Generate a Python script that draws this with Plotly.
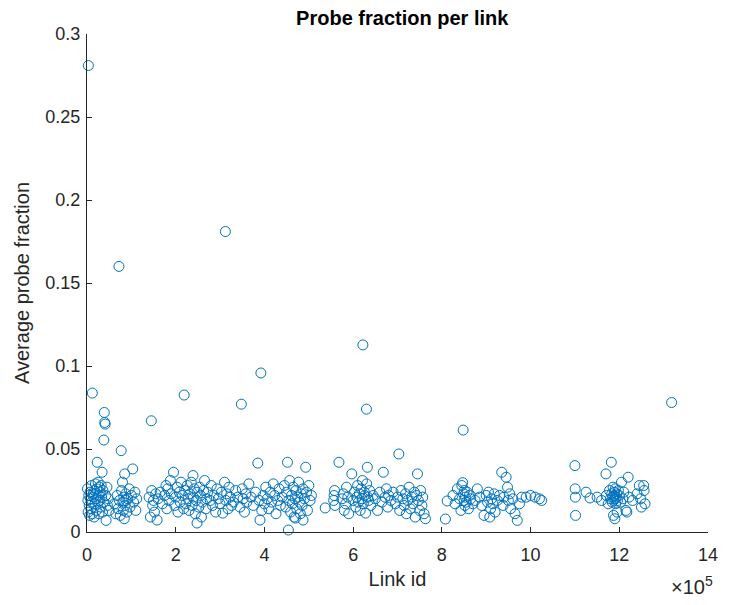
import plotly.graph_objects as go

# Average probe fraction observed for each link id
link_id = [
    3000, 12000, 39000, 40000, 41000, 38000, 77000, 72000, 23000, 34000,
    1000, 2000, 2500, 4000, 5000, 6000, 7000, 8000, 9000, 10000,
    11000, 12500, 14000, 15000, 16000, 17000, 18000, 19000, 20000, 21000,
    22000, 24000, 25000, 26000, 27000, 28000, 29000, 30000, 31000, 32000,
    33000, 35000, 36000, 37000, 42000, 43000, 45000, 46000, 48000, 50000,
    62000, 65000, 68000, 70000, 73000, 75000, 78000, 80000, 81000, 82000,
    83000, 84000, 85000, 86000, 87000, 88000, 90000, 92000, 95000, 97000,
    100000, 103000, 105000, 108000, 110000, 112000,
    145000, 140000, 143000, 146000, 148000, 150000, 152000, 155000, 158000, 160000,
    165000, 170000, 175000, 178000, 180000, 182000, 185000, 188000, 190000, 195000,
    198000, 200000, 203000, 205000, 208000, 210000, 212000, 215000, 218000, 219000,
    220000, 223000, 226000, 228000, 230000, 232000, 235000, 237000, 239000, 240000,
    242000, 244000, 246000, 248000, 312000, 252000, 254000, 256000, 258000, 260000,
    263000, 265000, 268000, 270000, 272000, 248000, 278000, 280000, 283000, 286000,
    290000, 293000, 296000, 300000, 303000, 306000, 310000, 313000, 315000, 318000,
    320000, 323000, 326000, 330000, 335000, 340000, 345000, 348000, 350000, 352000,
    355000, 358000, 360000, 365000, 370000, 375000, 380000, 385000, 388000, 390000,
    392000, 394000, 397000, 400000, 403000, 406000, 410000, 413000, 416000, 420000,
    423000, 426000, 430000, 433000, 436000, 440000,
    445000, 448000, 450000, 452000, 454000, 455000, 457000, 459000, 461000, 463000,
    465000, 467000, 469000, 471000, 473000, 475000, 477000, 479000, 481000, 483000,
    485000, 487000, 490000, 493000, 495000, 497000, 500000, 503000, 506000, 470000,
    487000,
    537000, 556000, 557000, 558000, 559000, 568000, 575000, 578000, 580000, 583000,
    585000, 588000, 590000, 597000, 600000, 603000, 606000, 608000, 610000, 612000,
    614000, 616000, 618000, 620000, 621000, 622000, 623000, 625000, 626000, 628000,
    630000, 630500, 632000, 633000, 635000, 637000, 640000, 645000, 650000, 655000,
    660000, 665000, 668000, 672000, 675000, 678000, 680000, 685000, 690000, 695000,
    700000, 703000, 705000, 708000, 712000, 715000, 718000, 720000, 723000, 726000,
    729000, 732000, 735000, 738000, 740000, 743000, 745000, 747000, 750000, 752000,
    755000, 757000, 760000, 763000,
    808000, 812000, 825000, 830000, 835000, 840000, 843000, 845000, 847000, 848000,
    849000, 850000, 851000, 852000, 853000, 855000, 857000, 860000, 862000, 865000,
    870000, 875000, 880000, 885000, 890000, 895000, 900000, 903000, 905000, 908000,
    910000, 912000, 915000, 918000, 920000, 925000, 930000, 935000, 938000, 940000,
    945000, 948000, 950000, 953000, 955000, 960000, 965000, 970000, 975000, 980000,
    990000, 1000000, 1010000, 1020000, 1025000,
    1100000, 1100500, 1101000, 1101500, 1125000, 1134000, 1150000, 1160000, 1170000, 1171000,
    1175000, 1178000, 1180000, 1182000, 1183000, 1184000, 1185000, 1186000, 1187000, 1187500,
    1188000, 1189000, 1190000, 1190500, 1191000, 1192000, 1193000, 1194000, 1195000, 1196000,
    1198000, 1200000, 1203000, 1205000, 1208000, 1210000, 1215000, 1217000, 1220000, 1222000,
    1230000, 1240000, 1245000, 1248000, 1250000, 1255000, 1256000, 1258000, 1318000,
]

probe_fraction = [
    0.281, 0.0837, 0.072, 0.066, 0.065, 0.0554, 0.049, 0.160, 0.042, 0.036,
    0.026, 0.019, 0.012, 0.022, 0.016, 0.010, 0.024, 0.020, 0.014, 0.028,
    0.018, 0.011, 0.023, 0.021, 0.009, 0.025, 0.017, 0.029, 0.020, 0.013,
    0.026, 0.018, 0.030, 0.022, 0.011, 0.027, 0.019, 0.024, 0.015, 0.028,
    0.021, 0.012, 0.025, 0.018, 0.022, 0.007, 0.027, 0.016, 0.020, 0.013,
    0.017, 0.011, 0.022, 0.014, 0.019, 0.010, 0.025, 0.030, 0.018, 0.013,
    0.021, 0.008, 0.035, 0.016, 0.023, 0.019, 0.012, 0.020, 0.026, 0.015,
    0.022, 0.038, 0.018, 0.024, 0.013, 0.020,
    0.067, 0.021, 0.009, 0.025, 0.016, 0.019, 0.012, 0.023, 0.0072, 0.020,
    0.024, 0.017, 0.022, 0.028, 0.014, 0.026, 0.019, 0.031, 0.023, 0.036,
    0.016, 0.021, 0.027, 0.012, 0.024, 0.018, 0.030, 0.022, 0.014, 0.0825,
    0.025, 0.017, 0.028, 0.020, 0.013, 0.023, 0.030, 0.016, 0.034, 0.021,
    0.026, 0.011, 0.019, 0.024, 0.181, 0.015, 0.027, 0.022, 0.009, 0.018,
    0.025, 0.031, 0.014, 0.020, 0.024, 0.0054, 0.019, 0.028, 0.016, 0.022,
    0.012, 0.026, 0.020, 0.017, 0.024, 0.0114, 0.030, 0.019, 0.023, 0.014,
    0.027, 0.021, 0.016, 0.018, 0.025, 0.021, 0.015, 0.077, 0.026, 0.020,
    0.012, 0.023, 0.018, 0.029, 0.021, 0.016, 0.024, 0.0415, 0.019, 0.0072,
    0.0958, 0.013, 0.022, 0.017, 0.027, 0.020, 0.014, 0.024, 0.018, 0.029,
    0.022, 0.011, 0.019, 0.026, 0.016, 0.021,
    0.028, 0.015, 0.024, 0.042, 0.0012, 0.019, 0.031, 0.012, 0.022, 0.017,
    0.027, 0.009, 0.020, 0.025, 0.014, 0.021, 0.030, 0.018, 0.011, 0.023,
    0.016, 0.026, 0.020, 0.039, 0.024, 0.013, 0.028, 0.019, 0.022, 0.0084,
    0.0072,
    0.0145, 0.019, 0.022, 0.025, 0.016, 0.042, 0.020, 0.023, 0.013, 0.017,
    0.027, 0.021, 0.011, 0.035, 0.019, 0.024, 0.015, 0.021, 0.028, 0.018,
    0.023, 0.013, 0.026, 0.020, 0.031, 0.1127, 0.017, 0.024, 0.022, 0.0114,
    0.074, 0.029, 0.039, 0.021, 0.019, 0.025, 0.016, 0.022, 0.020, 0.013,
    0.024, 0.018, 0.036, 0.021, 0.026, 0.015, 0.022, 0.019, 0.024, 0.017,
    0.021, 0.047, 0.013, 0.025, 0.020, 0.016, 0.023, 0.011, 0.019, 0.027,
    0.014, 0.021, 0.017, 0.024, 0.009, 0.022, 0.035, 0.019, 0.013, 0.025,
    0.016, 0.021, 0.011, 0.008,
    0.0078, 0.0187, 0.022, 0.017, 0.026, 0.020, 0.013, 0.028, 0.0297, 0.0614,
    0.023, 0.019, 0.025, 0.016, 0.021, 0.018, 0.024, 0.014, 0.022, 0.020,
    0.017, 0.019, 0.026, 0.021, 0.016, 0.010, 0.022, 0.018, 0.024, 0.009,
    0.014, 0.020, 0.017, 0.023, 0.012, 0.019, 0.022, 0.036, 0.016, 0.021,
    0.033, 0.027, 0.019, 0.023, 0.014, 0.020, 0.011, 0.007, 0.017, 0.021,
    0.021, 0.022, 0.021, 0.020, 0.019,
    0.040, 0.026, 0.021, 0.010, 0.024, 0.0205, 0.021, 0.019, 0.035, 0.022,
    0.017, 0.025, 0.020, 0.042, 0.023, 0.018, 0.021, 0.027, 0.010, 0.019,
    0.022, 0.024, 0.008, 0.020, 0.026, 0.017, 0.021, 0.023, 0.012, 0.019,
    0.025, 0.022, 0.018, 0.030, 0.020, 0.024, 0.013, 0.012, 0.033, 0.021,
    0.019, 0.023, 0.028, 0.020, 0.015, 0.028, 0.025, 0.017, 0.078,
]

X_TICKS = [0, 2, 4, 6, 8, 10, 12, 14]
Y_TICKS = [0, 0.05, 0.1, 0.15, 0.2, 0.25, 0.3]
Y_TICK_TEXT = ["0", "0.05", "0.1", "0.15", "0.2", "0.25", "0.3"]
X_SCALE = 1e5

AXIS_COLOR = "#262626"
FONT = "Liberation Sans, Arial, sans-serif"

fig = go.Figure()
fig.add_trace(go.Scatter(
    x=[v / X_SCALE for v in link_id],
    y=probe_fraction,
    mode="markers",
    cliponaxis=False,
    marker=dict(symbol="circle-open", size=10, color="#0072BD",
                line=dict(width=1, color="#0072BD")),
    showlegend=False,
))

axis_common = dict(
    showline=True, linecolor=AXIS_COLOR, linewidth=1,
    ticks="inside", ticklen=5, tickcolor=AXIS_COLOR,
    showgrid=False, zeroline=False, mirror=False,
    tickfont=dict(family=FONT, size=18, color=AXIS_COLOR),
)

fig.update_layout(
    width=730, height=605,
    margin=dict(l=87, r=13, t=34, b=73),
    paper_bgcolor="white", plot_bgcolor="white",
    font=dict(family=FONT, color=AXIS_COLOR),
    title=dict(text="<b>Probe fraction per link</b>", x=0.551, xanchor="center",
               y=0.970, yanchor="middle",
               font=dict(family=FONT, size=20, color="black")),
    xaxis=dict(range=[0, 14], tickvals=X_TICKS, ticktext=[str(t) for t in X_TICKS],
               ticklabelstandoff=6,
               title=dict(text="Link id", font=dict(family=FONT, size=20, color=AXIS_COLOR),
                          standoff=8),
               **axis_common),
    yaxis=dict(range=[0, 0.3], tickvals=Y_TICKS, ticktext=Y_TICK_TEXT,
               ticklabelstandoff=2,
               title=dict(text="Average probe fraction",
                          font=dict(family=FONT, size=20, color=AXIS_COLOR),
                          standoff=10),
               **axis_common),
    annotations=[dict(
        text="×10<sup>5</sup>", xref="paper", yref="paper", x=1.012, y=-0.108,
        xanchor="right", yanchor="middle", showarrow=False,
        font=dict(family=FONT, size=20, color=AXIS_COLOR),
    )],
)

fig.write_html("out.html")
